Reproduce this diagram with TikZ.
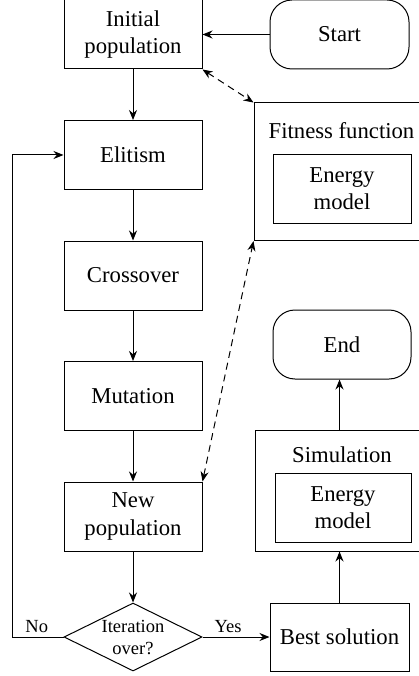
\documentclass[tikz,border=0pt]{standalone}
\usepackage{fontspec}
\setmainfont{Liberation Serif}
\newfontfamily\diagfont{Liberation Serif}
\usetikzlibrary{shapes.geometric,arrows.meta}
\begin{document}
\begin{tikzpicture}[x=1pt,y=-1pt,
  line width=1pt,
  every node/.style={font=\diagfont\fontsize{22.7}{27.2}\selectfont, align=center, inner sep=0pt},
  box/.style={draw, rectangle, minimum width=138pt, minimum height=69pt},
  term/.style={draw, rectangle, rounded corners=22pt, minimum width=138pt, minimum height=69pt},
  frame/.style={draw, rectangle},
  dec/.style={draw, diamond, minimum width=138pt, minimum height=68pt, aspect=2,
    font=\diagfont\fontsize{18.5}{22}\selectfont},
  lbl/.style={font=\diagfont\fontsize{18.5}{22}\selectfont},
  arr/.style={-{Stealth[length=10pt,width=8pt]}},
  darr/.style={{Stealth[length=10pt,width=8pt]}-{Stealth[length=10pt,width=8pt]}, dash pattern=on 7pt off 5pt}
]
\useasboundingbox (0,0) rectangle (419,676);

% main chain of the genetic algorithm
\node[box]  (init)  at (133,34.5)  {Initial\\population};
\node[term, minimum width=139pt] (start) at (339.5,34.5) {Start};
\node[box]  (elit)  at (133,155)   {Elitism};
\node[box]  (cross) at (133,275.5) {Crossover};
\node[box]  (mut)   at (133,396)   {Mutation};
\node[box]  (newp)  at (133,516.5) {New\\population};
\node[dec]  (iter)  at (133,637)   {Iteration\\over?};
\node[box, minimum width=139pt, minimum height=68pt] (best) at (339.5,637) {Best solution};

% fitness evaluation block
\node[frame, minimum width=176pt, minimum height=137.5pt] (fit) at (342,171.75) {};
\node at (341.5,131) {Fitness function};
\node[box, minimum height=68pt] (fem) at (342,189) {Energy\\model};

% simulation block and end
\node[frame, minimum width=175pt, minimum height=120.3pt] (sim) at (342.5,490.85) {};
\node at (342,455) {Simulation};
\node[box, minimum width=136pt] (sem) at (343,508) {Energy\\model};
\node[term] (end) at (342,344.5) {End};

% connectors
\draw[arr] (start) -- (init);
\draw[arr] (init) -- (elit);
\draw[arr] (elit) -- (cross);
\draw[arr] (cross) -- (mut);
\draw[arr] (mut) -- (newp);
\draw[arr] (newp) -- (iter);
\draw[arr] (iter.east) -- node[lbl, above, yshift=4pt, xshift=-8pt] {Yes} (best.west);
\coordinate (loop) at (12,637);
\draw[arr] (iter.west) -- node[lbl, above, yshift=4pt, xshift=-1pt] {No} (loop) |- (elit.west);
\draw[arr] (best.north) -- (best.north |- sim.south);
\draw[arr] (sim.north -| best.north) -- (best.north |- end.south);
\draw[darr] (init.south east) -- (fit.north west);
\draw[darr] (newp.north east) -- (fit.south west);
\end{tikzpicture}
\end{document}
